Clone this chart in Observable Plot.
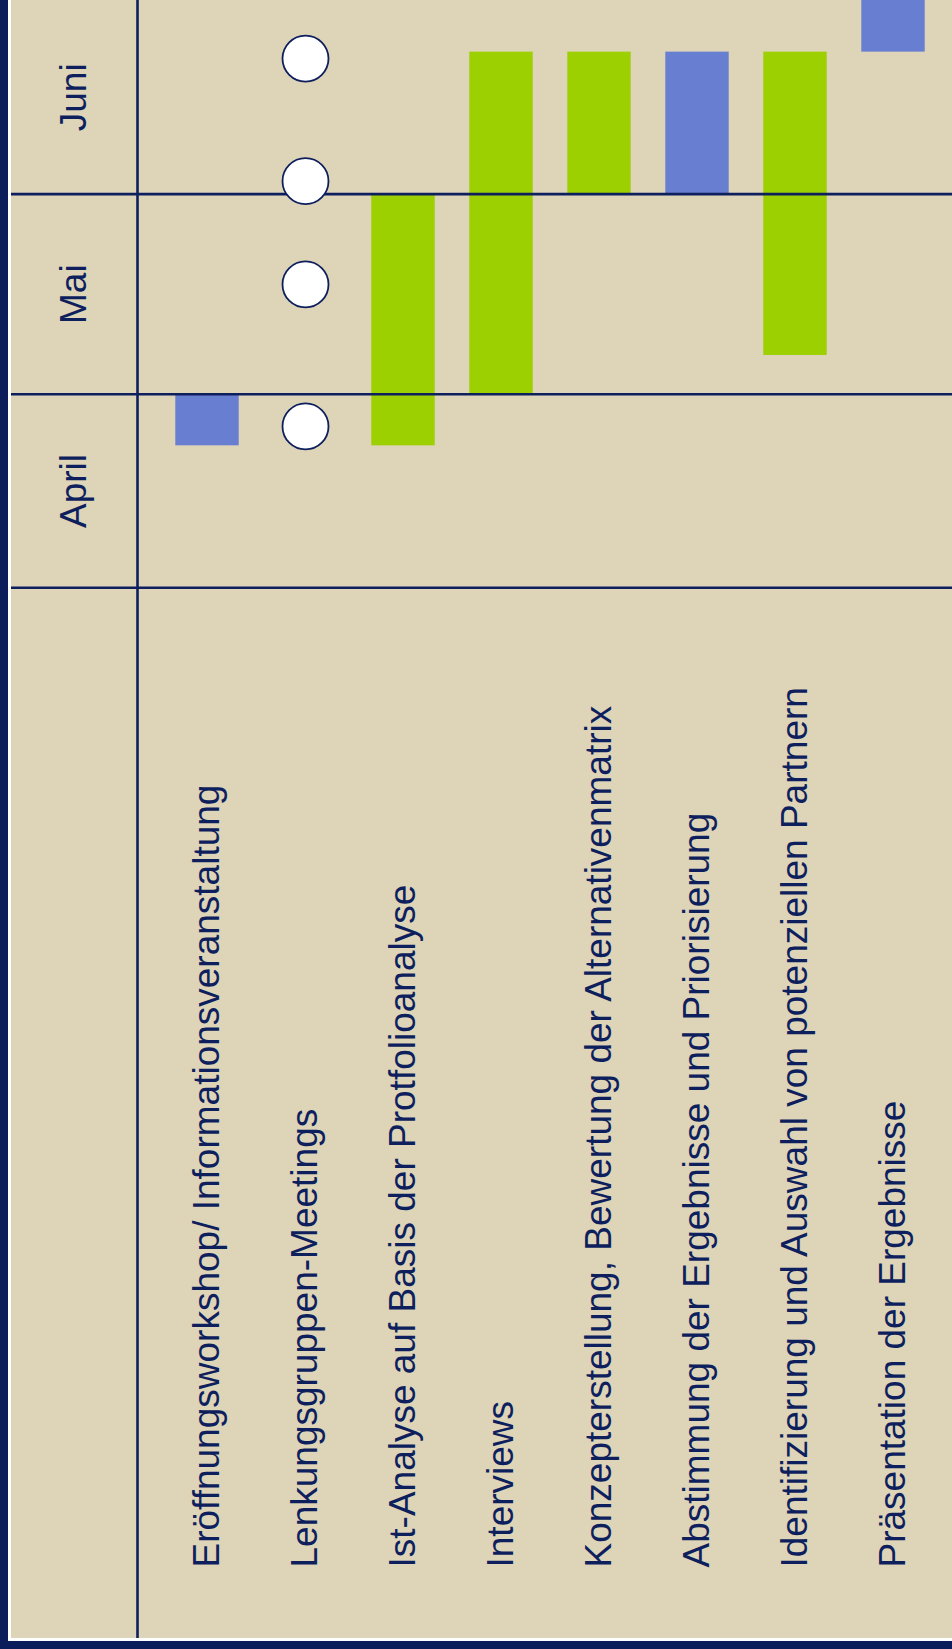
<!DOCTYPE html>
<html>
<head>
<meta charset="utf-8">
<script src="https://cdn.jsdelivr.net/npm/d3@7"></script>
<script src="https://cdn.jsdelivr.net/npm/@observablehq/plot@0.6"></script>
<style>
  html, body { margin: 0; padding: 0; background: #0b1c5a; }
  #outer { position: relative; width: 952px; height: 1649px; background: #0b1c5a; overflow: hidden; }
  #inner { position: absolute; left: 8px; top: 0; width: 944px; height: 1641px; background: #ffffff; }
  #chart { position: absolute; left: 11px; top: 0; width: 941px; height: 1638px; background: #ded4b8; }
  #chart svg { display: block; }
</style>
</head>
<body>
<div id="outer"><div id="inner"></div><div id="chart"></div></div>
<script>
// ---- Data ----
const tasks = [
  "Eröffnungsworkshop/ Informationsveranstaltung",
  "Lenkungsgruppen-Meetings",
  "Ist-Analyse auf Basis der Protfolioanalyse",
  "Interviews",
  "Konzepterstellung, Bewertung der Alternativenmatrix",
  "Abstimmung der Ergebnisse und Priorisierung",
  "Identifizierung und Auswahl von potenziellen Partnern",
  "Präsentation der Ergebnisse"
];

const monthNames = ["April", "Mai", "Juni"];
const monthStarts = ["2009-04-01", "2009-05-01", "2009-06-01"];
const monthEnds = ["2009-05-01", "2009-06-01", "2009-07-01"];

const barTasks = [
  "Eröffnungsworkshop/ Informationsveranstaltung",
  "Ist-Analyse auf Basis der Protfolioanalyse",
  "Interviews",
  "Konzepterstellung, Bewertung der Alternativenmatrix",
  "Abstimmung der Ergebnisse und Priorisierung",
  "Identifizierung und Auswahl von potenziellen Partnern",
  "Präsentation der Ergebnisse"
];
const barStarts = ["2009-04-23", "2009-04-23", "2009-05-01", "2009-06-01", "2009-06-01", "2009-05-07", "2009-06-23"];
const barEnds   = ["2009-05-01", "2009-06-01", "2009-06-23", "2009-06-23", "2009-06-23", "2009-06-23", "2009-07-01"];
const barKinds  = ["Termin", "Analyse", "Analyse", "Analyse", "Termin", "Analyse", "Termin"];

const kinds = ["Termin", "Analyse"];

const meetingTask = "Lenkungsgruppen-Meetings";
const meetingDates = ["2009-04-26", "2009-05-18", "2009-06-03", "2009-06-22"];

// ---- Build tables ----
const parse = s => new Date(s + "T00:00:00Z");
const bars = barTasks.map((t, i) => ({task: t, start: parse(barStarts[i]), end: parse(barEnds[i]), kind: barKinds[i]}));
const months = monthNames.map((m, i) => {
  const a = parse(monthStarts[i]), b = parse(monthEnds[i]);
  return {name: m, mid: new Date((+a + +b) / 2)};
});
const meetings = meetingDates.map(d => ({task: meetingTask, date: parse(d)}));
const boundaries = monthStarts.map(parse);

const navy = "#0e1f5e";

const chart = Plot.plot({
  width: 941,
  height: 1638,
  marginLeft: 126,
  marginRight: 0,
  marginTop: 0,
  marginBottom: 0,
  style: {background: "#ded4b8", fontFamily: "'Liberation Sans', Arial, sans-serif", color: navy},
  x: {type: "band", domain: tasks, range: [144.8, 933.6], padding: 0, axis: null},
  y: {type: "utc", domain: [parse("2009-04-01"), parse("2009-07-01")], range: [587.3, 0], axis: null},
  color: {domain: kinds, range: ["#687ed1", "#9cd000"]},
  marks: [
    Plot.barY(bars, {x: "task", y1: "start", y2: "end", fill: "kind", insetLeft: 17.3, insetRight: 17.3}),
    Plot.ruleY(boundaries, {stroke: navy, strokeWidth: 2.6, insetLeft: -126}),
    Plot.frame({anchor: "left", stroke: navy, strokeWidth: 2.6}),
    Plot.dot(meetings, {x: "task", y: "date", r: 23, fill: "white", stroke: navy, strokeWidth: 1.8}),
    Plot.text(months, {y: "mid", text: "name", frameAnchor: "left", dx: -63, rotate: -90, textAnchor: "middle", lineAnchor: "middle", fontSize: 37, fill: navy}),
    Plot.text(tasks, {x: d => d, text: d => d, frameAnchor: "bottom", dy: -71, rotate: -90, textAnchor: "start", lineAnchor: "middle", fontSize: 37, fill: navy})
  ]
});
document.getElementById("chart").appendChild(chart);
</script>
</body>
</html>
